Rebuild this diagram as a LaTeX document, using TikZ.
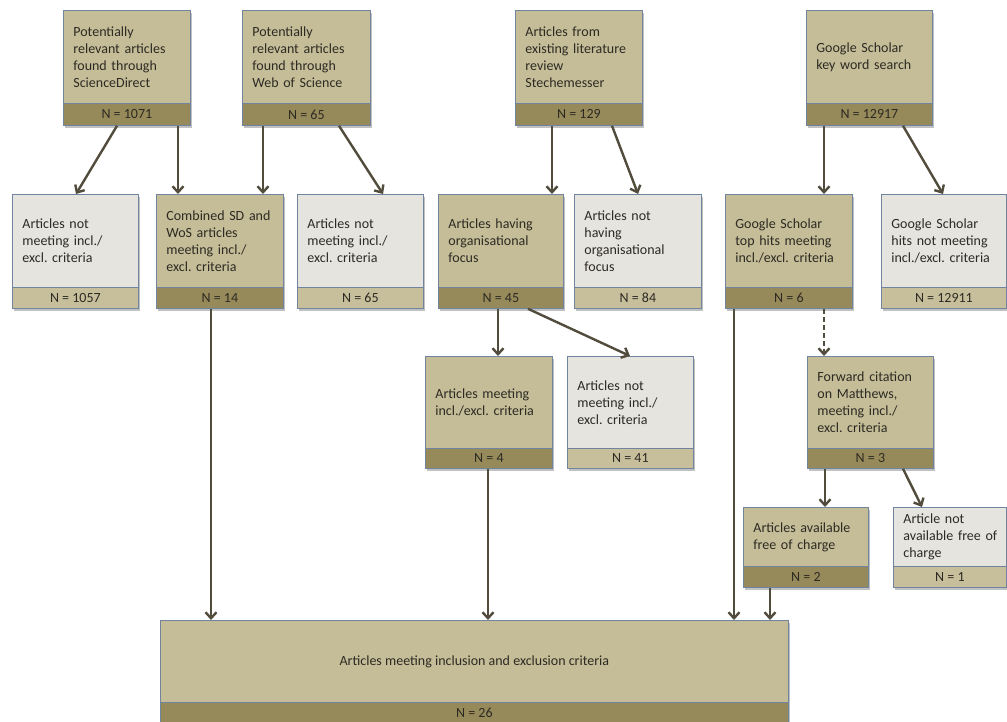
\documentclass[tikz,border=0pt]{standalone}
\usepackage{fontspec}
\setmainfont{Carlito}
\usetikzlibrary{arrows.meta,shadows}

\definecolor{bodyDark}{RGB}{197,189,152}
\definecolor{bandDark}{RGB}{150,138,90}
\definecolor{bodyLight}{RGB}{229,228,223}
\definecolor{bandLight}{RGB}{199,191,156}
\definecolor{edge}{RGB}{112,132,160}
\definecolor{arrowcol}{RGB}{82,76,60}
\definecolor{ink}{RGB}{45,42,35}

\tikzset{
  boxbase/.style={draw=edge, line width=0.8pt, inner sep=0pt, anchor=north west,
    font=\fontsize{14}{17}\selectfont\frenchspacing, text=ink,
    drop shadow={shadow xshift=2pt, shadow yshift=-2.5pt, opacity=0.35, fill=black!70}},
  darkbody/.style={boxbase, fill=bodyDark, align=left},
  lightbody/.style={boxbase, fill=bodyLight, align=left},
  darkband/.style={boxbase, fill=bandDark, align=center},
  lightband/.style={boxbase, fill=bandLight, align=center},
  flow/.style={draw=arrowcol, line width=2.4pt, -{Straight Barb[length=6pt,width=11pt]}},
  flowdash/.style={flow, dash pattern=on 5pt off 3pt},
}

% \flowbox{name}{dark|light}{x}{y}{width}{body height}{band height}{text}{count}
\newcommand\flowbox[9]{%
  \pgfmathsetmacro\flowtw{#5-20}%
  \node[#2body, minimum width=#5pt, minimum height=#6pt, text width=\flowtw pt]
    (#1) at (#3,#4) {#8};
  \node[#2band, minimum width=#5pt, minimum height=#7pt] (#1N) at (#3,#4+#6) {#9};
}

\begin{document}
\begin{tikzpicture}[x=1pt,y=-1pt]
\useasboundingbox (0,0) rectangle (1007,722);

% sources
\flowbox{sd}{dark}{63}{10}{127}{93}{22}{Potentially\\relevant articles\\found through\\ScienceDirect}{N = 1071}
\flowbox{wos}{dark}{242}{10}{128}{93}{22}{Potentially\\relevant articles\\found through\\Web of Science}{N = 65}
\flowbox{lit}{dark}{515}{10}{127}{93}{22}{Articles from\\existing literature\\review\\Stechemesser}{N = 129}
\flowbox{gs}{dark}{806}{10}{126}{93}{22}{Google Scholar\\key word search}{N = 12917}

% first screening
\flowbox{ncA}{light}{12}{194}{126}{93}{21}{Articles not\\meeting incl./\\excl. criteria}{N = 1057}
\flowbox{comb}{dark}{156}{194}{127}{93}{21}{Combined SD and\\WoS articles\\meeting incl./\\excl. criteria}{N = 14}
\flowbox{ncC}{light}{297}{194}{126}{93}{21}{Articles not\\meeting incl./\\excl. criteria}{N = 65}
\flowbox{org}{dark}{438}{194}{125}{93}{21}{Articles having\\organisational\\focus}{N = 45}
\flowbox{norg}{light}{574}{194}{127}{93}{21}{Articles not\\having\\organisational\\focus}{N = 84}
\flowbox{gstop}{dark}{725}{194}{127}{93}{21}{Google Scholar\\top hits meeting\\incl./excl. criteria}{N = 6}
\flowbox{gsnot}{light}{881}{194}{125}{93}{21}{Google Scholar\\hits not meeting\\incl./excl. criteria}{N = 12911}

% second screening
\flowbox{meet}{dark}{425}{356}{127}{92}{20}{Articles meeting\\incl./excl. criteria}{N = 4}
\flowbox{nmeet}{light}{567}{356}{126}{92}{20}{Articles not\\meeting incl./\\excl. criteria}{N = 41}
\flowbox{fwd}{dark}{807}{356}{126}{92}{20}{Forward citation\\on Matthews,\\meeting incl./\\excl. criteria}{N = 3}
\flowbox{free}{dark}{743}{507}{125}{59}{21}{Articles available\\free of charge}{N = 2}
\flowbox{nfree}{light}{893}{507}{113}{59}{21}{Article not\\\mbox{available free of}\\charge}{N = 1}

% result
\node[darkbody, align=center, minimum width=628pt, minimum height=82pt] (final) at (160,620)
  {Articles meeting inclusion and exclusion criteria};
\node[darkband, minimum width=628pt, minimum height=20pt] (finalN) at (160,702) {N = 26};

% connectors
\draw[flow] ([xshift=54pt]sdN.south west) -- ([xshift=64pt]ncA.north west);
\draw[flow] ([xshift=115pt]sdN.south west) -- ([xshift=22pt]comb.north west);
\draw[flow] ([xshift=21pt]wosN.south west) -- ([xshift=107pt]comb.north west);
\draw[flow] ([xshift=97pt]wosN.south west) -- ([xshift=86pt]ncC.north west);
\draw[flow] ([xshift=37pt]litN.south west) -- ([xshift=114pt]org.north west);
\draw[flow] ([xshift=97pt]litN.south west) -- ([xshift=64pt]norg.north west);
\draw[flow] ([xshift=18pt]gsN.south west) -- ([xshift=99pt]gstop.north west);
\draw[flow] ([xshift=97pt]gsN.south west) -- ([xshift=62pt]gsnot.north west);
\draw[flow] ([xshift=60pt]orgN.south west) -- ([xshift=73pt]meet.north west);
\draw[flow] ([xshift=90pt]orgN.south west) -- ([xshift=63pt]nmeet.north west);
\draw[flowdash] ([xshift=99pt]gstopN.south west) -- ([xshift=17pt]fwd.north west);
\draw[flow] ([xshift=9pt]gstopN.south west) -- ([xshift=574pt]final.north west);
\draw[flow] ([xshift=18pt]fwdN.south west) -- ([xshift=82pt]free.north west);
\draw[flow] ([xshift=96pt]fwdN.south west) -- ([xshift=29pt]nfree.north west);
\draw[flow] ([xshift=27pt]freeN.south west) -- ([xshift=610pt]final.north west);
\draw[flow] ([xshift=55pt]combN.south west) -- ([xshift=51pt]final.north west);
\draw[flow] ([xshift=63pt]meetN.south west) -- ([xshift=328pt]final.north west);
\end{tikzpicture}
\end{document}
